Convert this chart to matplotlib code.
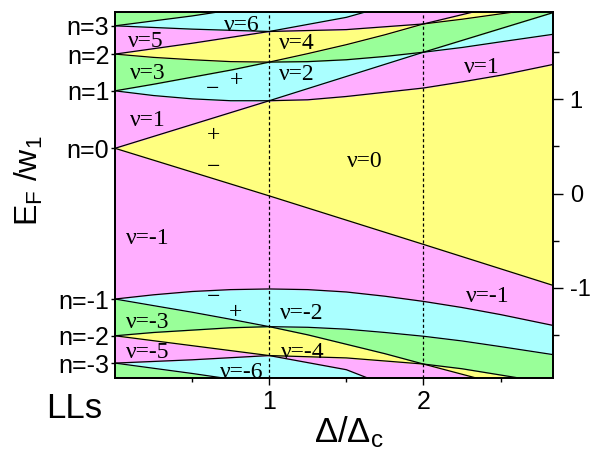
import numpy as np
import matplotlib
matplotlib.use('Agg')
import matplotlib.pyplot as plt

plt.rcParams['font.family'] = ['Liberation Sans', 'DejaVu Sans']
plt.rcParams['mathtext.fontset'] = 'custom'
plt.rcParams['mathtext.rm'] = 'Liberation Sans'
plt.rcParams['mathtext.it'] = 'Liberation Sans'
plt.rcParams['mathtext.sf'] = 'Liberation Sans'

# ---- Landau-level branches: Delta/Delta_c samples and E_F/w1 values
d_n0p = [0, 1, 2, 2.84]
e_n0p = [0.48, 0.985, 1.50, 1.92]
d_n0m = [0, 1, 2, 2.84]
e_n0m = [0.48, -0.025, -0.54, -0.975]

d_n1m = [0, 0.25, 0.5, 0.75, 1, 1.25, 1.5, 1.75, 2, 2.25, 2.5, 2.84]
e_n1m = [1.09, 1.04, 1.005, 0.985, 0.985, 0.995, 1.03, 1.075, 1.12, 1.185, 1.255, 1.37]
d_n1p = [0, 0.25, 0.5, 0.75, 1, 1.25, 1.5, 1.75, 2, 2.33, 2.84]
e_n1p = [1.09, 1.16, 1.235, 1.31, 1.395, 1.485, 1.58, 1.685, 1.80, 1.93, 2.15]

d_n2m = [0, 0.25, 0.5, 0.75, 1, 1.25, 1.5, 1.75, 2, 2.25, 2.5, 2.84]
e_n2m = [1.48, 1.445, 1.42, 1.40, 1.395, 1.40, 1.42, 1.455, 1.50, 1.55, 1.61, 1.69]
d_n2p = [0, 0.5, 1, 1.5, 1.63, 2.84]
e_n2p = [1.48, 1.595, 1.72, 1.87, 1.93, 2.4]

d_n3m = [0, 0.5, 1, 1.5, 2, 2.25, 2.6, 2.84]
e_n3m = [1.78, 1.745, 1.72, 1.74, 1.80, 1.85, 1.93, 2.0]
d_n3p = [0, 0.5, 0.68, 2.84]
e_n3p = [1.78, 1.885, 1.93, 2.6]

d_m1a = [0, 0.25, 0.5, 0.75, 1, 1.25, 1.5, 1.75, 2, 2.25, 2.5, 2.84]
e_m1a = [-1.12, -1.075, -1.04, -1.02, -1.013, -1.02, -1.045, -1.09, -1.145, -1.21, -1.285, -1.40]
d_m1b = [0, 0.25, 0.5, 0.75, 1, 1.25, 1.5, 1.75, 2, 2.33, 2.84]
e_m1b = [-1.12, -1.19, -1.26, -1.335, -1.413, -1.50, -1.60, -1.70, -1.81, -1.953, -2.2]

d_m2a = [0, 0.25, 0.5, 0.75, 1, 1.25, 1.5, 1.75, 2, 2.25, 2.5, 2.84]
e_m2a = [-1.51, -1.475, -1.45, -1.425, -1.413, -1.42, -1.44, -1.475, -1.515, -1.565, -1.625, -1.71]
d_m2b = [0, 0.5, 1, 1.5, 1.63, 2.84]
e_m2b = [-1.51, -1.615, -1.72, -1.87, -1.953, -2.4]

d_m3a = [0, 0.5, 1, 1.5, 2, 2.25, 2.6, 2.84]
e_m3a = [-1.80, -1.765, -1.72, -1.745, -1.81, -1.86, -1.953, -2.02]
d_m3b = [0, 0.5, 0.68, 2.84]
e_m3b = [-1.80, -1.91, -1.953, -2.6]

branches = [(d_n0p, e_n0p), (d_n0m, e_n0m), (d_n1m, e_n1m), (d_n1p, e_n1p),
            (d_n2m, e_n2m), (d_n2p, e_n2p), (d_n3m, e_n3m), (d_n3p, e_n3p),
            (d_m1a, e_m1a), (d_m1b, e_m1b), (d_m2a, e_m2a), (d_m2b, e_m2b),
            (d_m3a, e_m3a), (d_m3b, e_m3b)]

ll_pos = [1.78, 1.48, 1.09, 0.48, -1.12, -1.51, -1.80]
ll_labels = ['n=3', 'n=2', 'n=1', 'n=0', 'n=-1', 'n=-2', 'n=-3']

nu_texts = ['ν=6', 'ν=5', 'ν=4', 'ν=3', 'ν=2', 'ν=1', 'ν=0', 'ν=1',
            'ν=-1', 'ν=-1', 'ν=-2', 'ν=-3', 'ν=-4', 'ν=-5', 'ν=-6']
nu_x = [0.82, 0.20, 1.18, 0.21, 1.18, 0.21, 1.62, 2.38,
        0.21, 2.42, 1.21, 0.21, 1.22, 0.21, 0.82]
nu_y = [1.78, 1.61, 1.59, 1.27, 1.26, 0.77, 0.345, 1.34,
        -0.48, -1.09, -1.27, -1.37, -1.69, -1.69, -1.895]
pm_texts = ['−', '+', '+', '−', '−', '+']
pm_x = [0.63, 0.79, 0.64, 0.64, 0.64, 0.78]
pm_y = [1.10, 1.20, 0.62, 0.28, -1.10, -1.26]

XMAX = 2.84
YMIN, YMAX = -1.955, 1.93
# colour by |nu| mod 4 : 0 yellow, 1 magenta, 2 cyan, 3 green
cols = ['#FFFF80', '#FFAEFF', '#AAFFFF', '#99FF99']

fig = plt.figure(figsize=(5.94, 4.54), dpi=100)
ax = fig.add_axes([115/594, 1-377.7/454, 438/594, 366/454])

xd = np.linspace(0, XMAX, 2000)
lev = np.array([np.interp(xd, d, e) for d, e in branches])
S = np.sort(lev, axis=0)
B = np.vstack([np.full(xd.size, -10.0), S, np.full(xd.size, 10.0)])
for i in range(B.shape[0] - 1):
    nu = i - 7
    c = cols[abs(nu) % 4]
    ax.fill_between(xd, B[i], B[i+1], facecolor=c, edgecolor=c, lw=0.4)

for d, e in branches:
    ax.plot(d, e, color='k', lw=0.9)

for xv in (1, 2):
    ax.axvline(xv, color='k', lw=0.9, ls=(0, (2.5, 2)))

serif = ['Liberation Serif', 'DejaVu Serif']
for t, x, y in zip(nu_texts, nu_x, nu_y):
    ax.text(x, y, t, ha='center', va='center', fontsize=17, family=serif)
for t, x, y in zip(pm_texts, pm_x, pm_y):
    ax.text(x, y, t, ha='center', va='center', fontsize=17, family=serif)

ax.set_xlim(0, XMAX)
ax.set_ylim(YMIN, YMAX)
ax.set_yticks(ll_pos)
ax.set_yticklabels(ll_labels)
ax.tick_params(axis='y', direction='out', length=3, pad=1, labelsize=18, width=1)
ax.set_xticks([1, 2])
ax.set_xticklabels(['1', '2'])
ax.set_xticks([0.5, 1.5, 2.5], minor=True)
ax.tick_params(axis='x', which='major', direction='out', length=5, pad=4, labelsize=18, width=1)
ax.tick_params(axis='x', which='minor', direction='out', length=3, width=1)

tw = ax.twinx()
tw.set_ylim(YMIN, YMAX)
tw.set_yticks([-1, 0, 1])
tw.set_yticklabels(['-1', '0', '1'])
tw.set_yticks([-1.5, -0.5, 0.5, 1.5], minor=True)
tw.tick_params(axis='y', which='major', direction='out', length=7, pad=5, labelsize=17, width=1)
tw.tick_params(axis='y', which='minor', direction='out', length=4, width=1)

for a in (ax, tw):
    for s in a.spines.values():
        s.set_linewidth(1.3)

fig.text(28.5/594, 1-181/454, 'E$_F$ /w$_1$', rotation=90, ha='center', va='center', fontsize=23)
fig.text(314/594, 1-442/454, 'Δ/Δ$_c$', ha='left', va='baseline', fontsize=25)
fig.text(46/594, 1-418/454, 'LLs', ha='left', va='baseline', fontsize=25)

fig.savefig('out.png', dpi=100)
